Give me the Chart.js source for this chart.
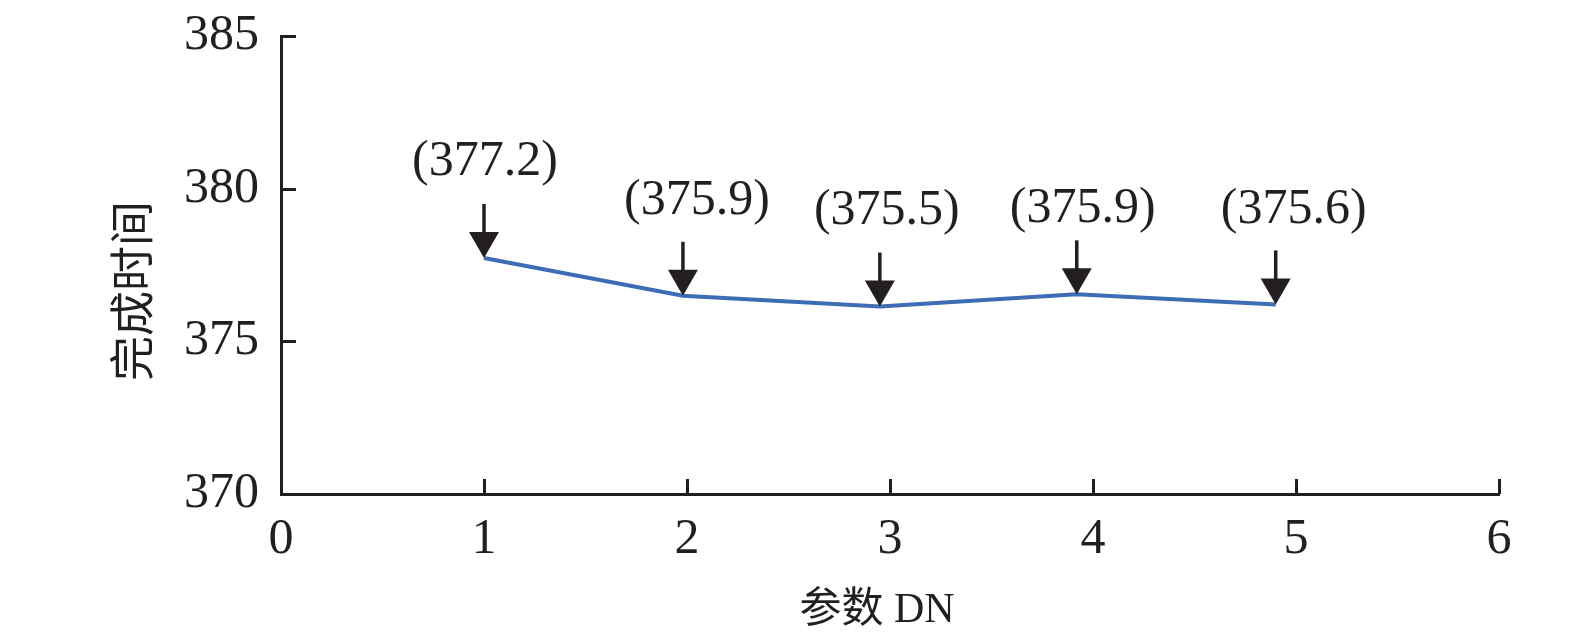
<!DOCTYPE html>
<html>
<head>
<meta charset="utf-8">
<title>完成时间 - 参数 DN</title>
<script src="https://cdn.jsdelivr.net/npm/chart.js@4"></script>
<style>
    html, body { margin: 0; padding: 0; background: #ffffff; }
    #contenitore { width: 1575px; height: 644px; }
</style>
</head>
<body>
<div id="contenitore">
    <canvas id="myChart" width="1575" height="644"></canvas>
</div>
<script>
// dati;
var valori_dn = [1.0, 1.98, 2.95, 3.92, 4.9];
var tempi_completamento = [377.73, 376.49, 376.14, 376.54, 376.21];
var etichette_frecce = ['(377.2)', '(375.9)', '(375.5)', '(375.9)', '(375.6)'];
var tick_x = [0, 1, 2, 3, 4, 5, 6];
var tick_y = [370, 375, 380, 385];

// spostamento delle etichette rispetto alla punta della freccia;
var spostamento_x = [1, 14, 7, 6, 18];
var spostamento_y = [96, 95, 96, 85, 95];

var colore_assi = '#231f20';
var font_serif = '"Liberation Serif", "Times New Roman", serif';
var font_cinese = '"Liberation Serif", "Noto Sans CJK SC", sans-serif';

// costruisco i punti per il dataset;
var punti = [];
for (var i = 0; i < valori_dn.length; i++) {
    punti.push({ x: valori_dn[i], y: tempi_completamento[i] });
}

// sfondo bianco;
var plugin_sfondo = {
    id: 'sfondo',
    beforeDraw: function(chart) {
        var ctx = chart.ctx;
        ctx.save();
        ctx.fillStyle = '#ffffff';
        ctx.fillRect(0, 0, chart.width, chart.height);
        ctx.restore();
    }
};

// tacche interne sugli assi e titoli degli assi;
var plugin_assi = {
    id: 'assi',
    afterDraw: function(chart) {
        var ctx = chart.ctx;
        var area = chart.chartArea;
        var scala_x = chart.scales.x;
        var scala_y = chart.scales.y;

        ctx.save();
        ctx.strokeStyle = colore_assi;
        ctx.lineWidth = 3;
        for (var i = 0; i < tick_y.length; i++) {
            var py = Math.round(scala_y.getPixelForValue(tick_y[i])) + 0.5;
            ctx.beginPath();
            ctx.moveTo(area.left, py);
            ctx.lineTo(area.left + 15, py);
            ctx.stroke();
        }
        for (var j = 0; j < tick_x.length; j++) {
            var px = Math.round(scala_x.getPixelForValue(tick_x[j])) + 0.5;
            ctx.beginPath();
            ctx.moveTo(px, area.bottom);
            ctx.lineTo(px, area.bottom - 15);
            ctx.stroke();
        }

        // titoli degli assi;
        ctx.fillStyle = colore_assi;
        ctx.textAlign = 'center';
        ctx.textBaseline = 'middle';
        ctx.font = '42px ' + font_cinese;
        ctx.fillText('参数 DN', 877, 611);

        ctx.translate(137, 291);
        ctx.rotate(-Math.PI / 2);
        ctx.font = '45px ' + font_cinese;
        ctx.fillText('完成时间', 0, 0);
        ctx.restore();
    }
};

// frecce con le etichette sopra ogni punto;
var plugin_frecce = {
    id: 'frecce',
    afterDatasetsDraw: function(chart) {
        var ctx = chart.ctx;
        var meta = chart.getDatasetMeta(0);

        ctx.save();
        ctx.fillStyle = colore_assi;
        ctx.strokeStyle = colore_assi;
        for (var i = 0; i < meta.data.length; i++) {
            var punto = meta.data[i];
            var px = punto.x;
            var py = punto.y;

            // asta della freccia;
            ctx.lineWidth = 3.5;
            ctx.beginPath();
            ctx.moveTo(px, py - 54);
            ctx.lineTo(px, py - 20);
            ctx.stroke();

            // punta della freccia;
            ctx.beginPath();
            ctx.moveTo(px - 15, py - 26);
            ctx.lineTo(px + 15, py - 26);
            ctx.lineTo(px, py);
            ctx.closePath();
            ctx.fill();

            // etichetta;
            ctx.font = '50px ' + font_serif;
            ctx.textAlign = 'center';
            ctx.textBaseline = 'middle';
            ctx.fillText(etichette_frecce[i], px + spostamento_x[i], py - spostamento_y[i]);
        }
        ctx.restore();
    }
};

// creo il grafico con chartjs;
var ctx = document.getElementById('myChart').getContext('2d');

var myChart = new Chart(ctx, {
    type: 'line',
    data: {
        datasets: [{
            label: '完成时间',
            data: punti,
            borderColor: '#3d6db5',
            backgroundColor: '#3d6db5',
            borderWidth: 4,
            pointRadius: 0,
            tension: 0,
            fill: false
        }]
    },
    options: {
        responsive: false,
        animation: false,
        layout: {
            padding: { top: 36, right: 76, left: 0, bottom: 0 }
        },
        plugins: {
            legend: { display: false },
            tooltip: { enabled: false }
        },
        scales: {
            x: {
                type: 'linear',
                min: 0,
                max: 6,
                afterBuildTicks: function(scale) {
                    scale.ticks = tick_x.map(function(v) { return { value: v }; });
                },
                afterFit: function(scale) {
                    scale.height = 150;
                    scale.paddingLeft = 0;
                    scale.paddingRight = 0;
                },
                grid: { display: false, drawTicks: false },
                border: { display: true, color: colore_assi, width: 3 },
                ticks: {
                    color: colore_assi,
                    padding: 16,
                    maxRotation: 0,
                    font: { family: font_serif, size: 50 }
                }
            },
            y: {
                type: 'linear',
                min: 370,
                max: 385,
                afterBuildTicks: function(scale) {
                    scale.ticks = tick_y.map(function(v) { return { value: v }; });
                },
                afterFit: function(scale) {
                    scale.width = 281;
                    scale.paddingTop = 0;
                    scale.paddingBottom = 0;
                },
                grid: { display: false, drawTicks: false },
                border: { display: true, color: colore_assi, width: 3 },
                ticks: {
                    color: colore_assi,
                    padding: 22,
                    font: { family: font_serif, size: 50 }
                }
            }
        }
    },
    plugins: [plugin_sfondo, plugin_frecce, plugin_assi]
});
</script>
</body>
</html>
